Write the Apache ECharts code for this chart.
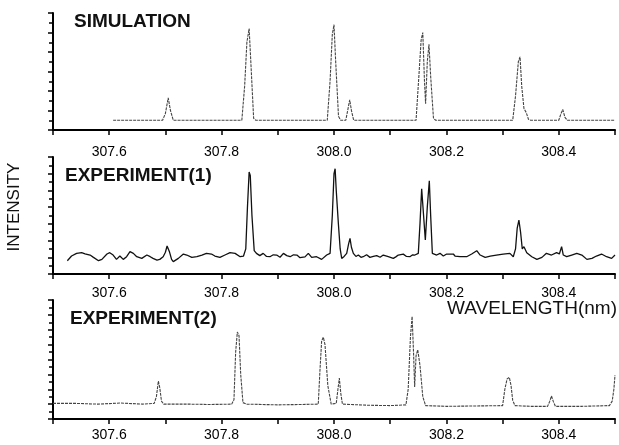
<!DOCTYPE html>
<html>
<head>
<meta charset="utf-8">
<script src="https://cdn.jsdelivr.net/npm/echarts@6/dist/echarts.min.js"></script>
<style>
html,body{margin:0;padding:0;background:#fff;}
#c{width:619px;height:445px;}
</style>
</head>
<body>
<div id="c"></div>
<script>
// Tick labels for the wavelength axes (nm)
var xTickLabels = ['307.6', '307.8', '308.0', '308.2', '308.4'];
var panelTitles = ['SIMULATION', 'EXPERIMENT(1)', 'EXPERIMENT(2)'];

// SIMULATION spectrum [wavelength nm, intensity a.u.]
var simulation = [
  [307.607,10],[307.650,10],[307.695,10],[307.700,17],[307.705,33],[307.709,20],[307.714,10],
  [307.760,10],[307.836,10],[307.841,45],[307.845,90],[307.849,104],[307.852,70],[307.857,12],[307.861,10],
  [307.920,10],[307.988,10],[307.993,50],[307.997,98],[308.000,108],[308.003,70],[308.008,14],[308.012,10],
  [308.021,10],[308.025,22],[308.028,31],[308.031,20],[308.035,10],
  [308.090,10],[308.146,10],[308.151,55],[308.155,92],[308.158,100],[308.161,50],[308.163,27],[308.166,70],[308.169,88],[308.172,55],[308.177,12],[308.181,10],
  [308.250,10],[308.318,10],[308.323,35],[308.328,70],[308.331,75],[308.334,45],[308.338,22],[308.342,18],[308.346,11],[308.350,10],
  [308.400,10],[308.404,17],[308.407,21],[308.411,13],[308.415,10],[308.460,10],[308.500,10]
];

// EXPERIMENT(1) spectrum
var experiment1 = [
  [307.5255,15.9],[307.533,21.5],[307.542,24.7],[307.551,25.5],[307.557,24],[307.566,22.7],[307.572,19.9],[307.581,15.9],
  [307.587,17.5],[307.596,23.9],[307.601,25.5],[307.607,22.7],[307.613,17.5],[307.619,21.5],[307.625,17.5],[307.631,20.7],
  [307.637,26.7],[307.643,24.7],[307.649,20.7],[307.658,18.7],[307.667,22.7],[307.673,20.7],[307.678,18.7],[307.685,16.7],
  [307.690,17.5],[307.696,20.7],[307.700,26],[307.703,33.5],[307.707,27],[307.711,17.5],[307.714,14.8],[307.723,18.7],
  [307.732,23.9],[307.738,22.7],[307.747,19.9],[307.756,20.7],[307.765,22.7],[307.773,24.7],[307.782,23.9],[307.788,21.5],
  [307.797,19.9],[307.806,22.7],[307.815,25.5],[307.824,24.7],[307.833,20.7],[307.839,21.5],[307.843,30],[307.846,80],
  [307.849,122],[307.851,118],[307.854,70],[307.858,28],[307.862,24.7],[307.868,22],[307.874,24.7],[307.880,21],
  [307.886,20.7],[307.892,23],[307.898,22.7],[307.904,20],[307.910,24.7],[307.916,22],[307.922,20.7],[307.928,23],
  [307.934,22.7],[307.9395,19.5],[307.9484,20.5],[307.9543,24.7],[307.9603,19.9],[307.969,20.7],[307.978,17.5],[307.987,22.7],
  [307.993,24.7],[307.997,70],[308.000,120],[308.002,126],[308.004,100],[308.0077,61],[308.011,30],[308.0137,18.7],
  [308.018,21],[308.0226,24.7],[308.026,36],[308.0285,42.7],[308.031,32],[308.0344,24.7],[308.039,21],[308.0433,22.7],
  [308.048,20],[308.052,20.7],[308.058,23],[308.064,19.9],[308.070,21],[308.076,22],[308.082,20],[308.0877,22.7],
  [308.0966,20.7],[308.1055,18.7],[308.110,20.5],[308.1144,22.7],[308.1233,23.8],[308.129,21],[308.135,20.7],[308.140,23],
  [308.144,22.7],[308.150,24.7],[308.153,60],[308.156,102],[308.159,103],[308.1625,40.7],[308.166,80],[308.1696,111.6],
  [308.172,70],[308.175,24.7],[308.1767,24.7],[308.1827,22.7],[308.1886,24.7],[308.1945,21.5],[308.2005,23.9],[308.2123,23.9],
  [308.2153,21.5],[308.2242,20.7],[308.236,20.7],[308.245,23.9],[308.254,27.9],[308.260,22.7],[308.269,19.9],[308.278,21.5],
  [308.289,22.7],[308.301,23.9],[308.313,24.7],[308.319,20.7],[308.323,30],[308.326,55],[308.329,64.6],[308.332,50],
  [308.335,30],[308.338,32.7],[308.343,25.5],[308.352,20.7],[308.361,17.5],[308.370,19.9],[308.378,24.7],[308.387,22.7],
  [308.396,25.5],[308.401,24],[308.405,32.7],[308.408,22.7],[308.414,20.7],[308.423,22.7],[308.432,24.7],[308.441,22.7],
  [308.450,17.5],[308.459,18.7],[308.467,21.5],[308.476,23.9],[308.485,20.7],[308.494,18.7],[308.500,22.7]
];

// EXPERIMENT(2) spectrum
var experiment2 = [
  [307.500,21],[307.540,21],[307.580,20],[307.620,21.5],[307.660,20],[307.680,21],[307.684,30],[307.6875,51],
  [307.690,42],[307.693,24],[307.697,20],[307.740,20],[307.780,19.5],[307.818,20],[307.822,26],[307.825,90],
  [307.828,117],[307.831,112],[307.834,60],[307.838,22],[307.845,20],[307.900,19],[307.940,19.5],[307.972,20],
  [307.975,65],[307.978,105],[307.981,110],[307.984,100],[307.989,45],[307.995,20],[308.004,21],[308.007,40],
  [308.0095,55],[308.012,35],[308.015,20],[308.060,18.5],[308.100,18],[308.128,19],[308.132,40],[308.136,110],
  [308.139,138],[308.1415,90],[308.1435,43],[308.146,85],[308.149,93],[308.153,72],[308.158,30],[308.163,18],
  [308.200,17],[308.250,17.5],[308.300,18],[308.304,40],[308.308,54],[308.312,56],[308.315,45],[308.318,25],
  [308.322,18],[308.350,17],[308.380,17],[308.384,24],[308.387,31],[308.390,24],[308.394,17],[308.440,17],
  [308.490,18],[308.495,24],[308.498,40],[308.500,59]
];

var yMax = [120, 140, 160];
var labelMargins = [15, 12, 9];
var grids = [
  {left: 53, top: 13, width: 562, height: 117},
  {left: 53, top: 157, width: 562, height: 117},
  {left: 53, top: 300, width: 562, height: 119}
];
var FONT = '"Liberation Sans", Arial, sans-serif';

var chart = echarts.init(document.getElementById('c'), null, {renderer: 'canvas'});

function xAxisCfg(i) {
  return {
    type: 'value', gridIndex: i, min: 307.5, max: 308.5, interval: 0.1,
    axisLine: {show: true, onZero: false, lineStyle: {color: '#000', width: 2}},
    axisTick: {show: true, inside: false, length: 5, lineStyle: {color: '#000', width: 1.5}},
    splitLine: {show: false},
    axisLabel: {
      show: true, margin: labelMargins[i], color: '#000', fontSize: 14, fontFamily: FONT,
      showMinLabel: true, showMaxLabel: true,
      formatter: function (v) {
        var s = v.toFixed(1);
        return xTickLabels.indexOf(s) >= 0 ? s : '';
      }
    }
  };
}
function yAxisCfg(i) {
  return {
    type: 'value', gridIndex: i, min: 0, max: yMax[i], interval: 20,
    axisLine: {show: true, onZero: false, lineStyle: {color: '#000', width: 2}},
    axisTick: {show: true, inside: false, length: 5, lineStyle: {color: '#000', width: 1.5}},
    minorTick: {show: true, splitNumber: 2, length: 4, lineStyle: {color: '#000', width: 1.5}},
    axisLabel: {show: false},
    splitLine: {show: false},
    minorSplitLine: {show: false}
  };
}

var option = {
  backgroundColor: '#fff',
  animation: false,
  grid: grids,
  xAxis: [xAxisCfg(0), xAxisCfg(1), xAxisCfg(2)],
  yAxis: [yAxisCfg(0), yAxisCfg(1), yAxisCfg(2)],
  series: [
    {type: 'line', xAxisIndex: 0, yAxisIndex: 0, data: simulation, showSymbol: false, smooth: false,
     lineStyle: {color: '#444', width: 1.1, type: [3, 1]}},
    {type: 'line', xAxisIndex: 1, yAxisIndex: 1, data: experiment1, showSymbol: false, smooth: false,
     lineStyle: {color: '#111', width: 1.3}},
    {type: 'line', xAxisIndex: 2, yAxisIndex: 2, data: experiment2, showSymbol: false, smooth: false,
     lineStyle: {color: '#444', width: 1.1, type: [3, 1]}}
  ],
  graphic: [
    {type: 'text', left: 74, top: 12, style: {text: panelTitles[0], font: 'bold 19px ' + FONT, fill: '#111'}},
    {type: 'text', left: 65, top: 166, style: {text: panelTitles[1], font: 'bold 19px ' + FONT, fill: '#111'}},
    {type: 'text', left: 70, top: 309, style: {text: panelTitles[2], font: 'bold 19px ' + FONT, fill: '#111'}},
    {type: 'text', x: 14, y: 207, rotation: Math.PI / 2,
     style: {text: 'INTENSITY', font: '17px ' + FONT, fill: '#111', align: 'center', verticalAlign: 'middle'}},
    {type: 'text', right: 2, top: 299, style: {text: 'WAVELENGTH(nm)', font: '19px ' + FONT, fill: '#111'}}
  ]
};
chart.setOption(option);
</script>
</body>
</html>
